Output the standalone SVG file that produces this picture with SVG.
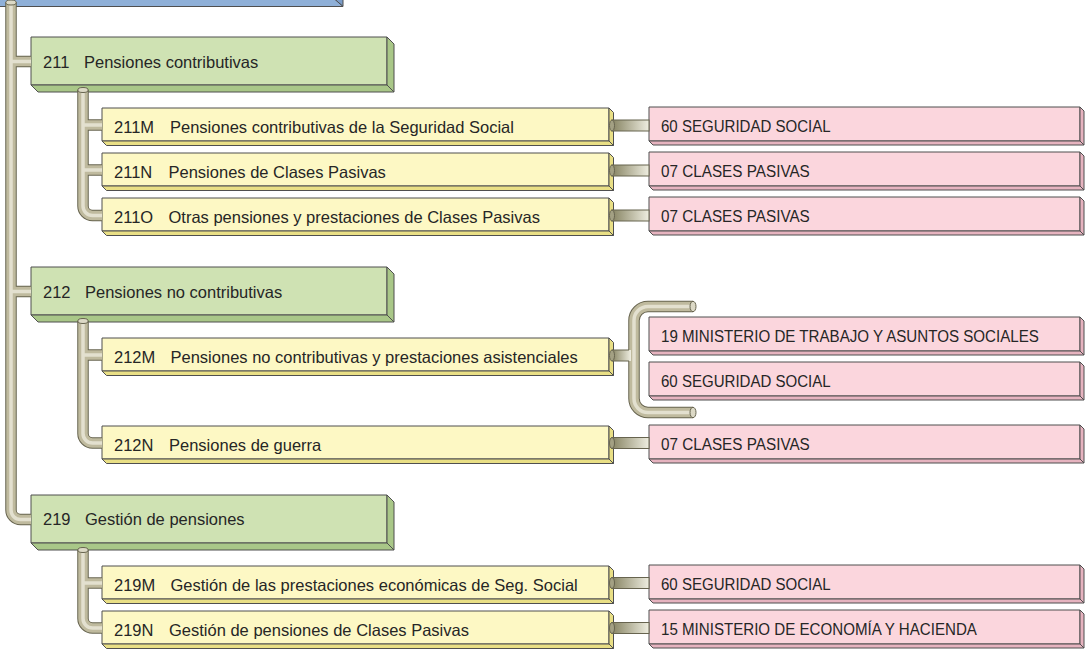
<svg xmlns="http://www.w3.org/2000/svg" width="1089" height="654" viewBox="0 0 1089 654">
<defs>
<style>
.front,.side{stroke:#4f4f4f;stroke-width:1;stroke-linejoin:round}
.blue .front{fill:#a6c2e4}.blue .side{fill:#8fb0d8}.blue .rs{fill:#7b9cc8}
.green .front{fill:#cfe2b3}.green .side{fill:#a9c788}
.yellow .front{fill:#fdf8c4}.yellow .side{fill:#e9df85}
.pink .front{fill:#fbd6dd}.pink .side{fill:#e6b3bf}
.t{font-family:"Liberation Sans",Arial,Helvetica,sans-serif;font-size:16.5px;fill:#262626}
.pt{font-family:"Liberation Sans",Arial,Helvetica,sans-serif;font-size:16px;fill:#262626}
.po{fill:none;stroke:#67644f;stroke-width:11.5}
.pm{fill:none;stroke:#bfba9e;stroke-width:9.5}
.ph{fill:none;stroke:#e3e0cf;stroke-width:3.5}
.cap{fill:#dcd9c6;stroke:#67644f;stroke-width:1}
.hp{fill:url(#hg);stroke:#67644f;stroke-width:1}
.hcap{fill:#a3a083;stroke:#67644f;stroke-width:1}
.edge{stroke:#67644f;stroke-width:1}
</style>
<linearGradient id="hg" x1="0" y1="0" x2="1" y2="0">
<stop offset="0" stop-color="#878463"/>
<stop offset="1" stop-color="#eeede0"/>
</linearGradient>
<path id="p-main" d="M 11 2 V 510 A 9.5 9.5 0 0 0 20.5 519.5 H 31"/>
<path id="p-b211" d="M 11 61.5 H 31"/>
<path id="p-b212" d="M 11 291.5 H 31"/>
<path id="p-s211" d="M 83 90 V 206 A 9.5 9.5 0 0 0 92.5 215.5 H 102"/>
<path id="p-s211a" d="M 83 125 H 102"/>
<path id="p-s211b" d="M 83 170 H 102"/>
<path id="p-s212" d="M 83 321 V 433.5 A 9.5 9.5 0 0 0 92.5 443 H 102"/>
<path id="p-s212a" d="M 83 355 H 102"/>
<path id="p-s219" d="M 83 550 V 618.5 A 9.5 9.5 0 0 0 92.5 628 H 102"/>
<path id="p-s219a" d="M 83 583 H 102"/>
<path id="p-br" d="M 693 306.5 H 648 A 14 14 0 0 0 634 320.5 V 398.5 A 14 14 0 0 0 648 412.5 H 693"/>
</defs>
<rect width="1089" height="654" fill="#ffffff"/>

<g id="node-top" class="blue">
<rect class="front" x="-10" y="-45" width="345" height="44.5"/>
<polygon class="side rs" points="335,-45 343,-37 343,6.5 335,-0.5"/>
<polygon class="side" points="-10,-0.5 335,-0.5 343,6.5 -2,6.5"/>
</g>

<g id="node-211" class="green">
<rect class="front" x="31" y="37" width="356" height="48"/>
<polygon class="side" points="387,37 394,44 394,92 387,85"/>
<polygon class="side" points="31,85 387,85 394,92 38,92"/>
<text class="t" y="67.5"><tspan x="43">211</tspan><tspan x="84">Pensiones contributivas</tspan></text>
</g>
<g id="node-212" class="green">
<rect class="front" x="31" y="267" width="356" height="48"/>
<polygon class="side" points="387,267 394,274 394,322 387,315"/>
<polygon class="side" points="31,315 387,315 394,322 38,322"/>
<text class="t" y="297.5"><tspan x="43">212</tspan><tspan x="85">Pensiones no contributivas</tspan></text>
</g>
<g id="node-219" class="green">
<rect class="front" x="31" y="495" width="356" height="48"/>
<polygon class="side" points="387,495 394,502 394,550 387,543"/>
<polygon class="side" points="31,543 387,543 394,550 38,550"/>
<text class="t" y="525"><tspan x="43">219</tspan><tspan x="85">Gestión de pensiones</tspan></text>
</g>

<g id="node-211M" class="yellow">
<rect class="front" x="102" y="108" width="507" height="33"/>
<polygon class="side" points="609,108 613.5,112.5 613.5,145.5 609,141"/>
<polygon class="side" points="102,141 609,141 613.5,145.5 106.5,145.5"/>
<text class="t" y="133"><tspan x="114">211M</tspan><tspan x="170">Pensiones contributivas de la Seguridad Social</tspan></text>
</g>
<g id="node-211N" class="yellow">
<rect class="front" x="102" y="153" width="507" height="33"/>
<polygon class="side" points="609,153 613.5,157.5 613.5,190.5 609,186"/>
<polygon class="side" points="102,186 609,186 613.5,190.5 106.5,190.5"/>
<text class="t" y="178"><tspan x="114">211N</tspan><tspan x="168.5">Pensiones de Clases Pasivas</tspan></text>
</g>
<g id="node-211O" class="yellow">
<rect class="front" x="102" y="198" width="507" height="33"/>
<polygon class="side" points="609,198 613.5,202.5 613.5,235.5 609,231"/>
<polygon class="side" points="102,231 609,231 613.5,235.5 106.5,235.5"/>
<text class="t" y="223"><tspan x="114">211O</tspan><tspan x="168.5">Otras pensiones y prestaciones de Clases Pasivas</tspan></text>
</g>
<g id="node-212M" class="yellow">
<rect class="front" x="102" y="338" width="507" height="33"/>
<polygon class="side" points="609,338 613.5,342.5 613.5,375.5 609,371"/>
<polygon class="side" points="102,371 609,371 613.5,375.5 106.5,375.5"/>
<text class="t" y="363"><tspan x="114">212M</tspan><tspan x="170.5">Pensiones no contributivas y prestaciones asistenciales</tspan></text>
</g>
<g id="node-212N" class="yellow">
<rect class="front" x="102" y="426" width="507" height="33"/>
<polygon class="side" points="609,426 613.5,430.5 613.5,463.5 609,459"/>
<polygon class="side" points="102,459 609,459 613.5,463.5 106.5,463.5"/>
<text class="t" y="451"><tspan x="114">212N</tspan><tspan x="169">Pensiones de guerra</tspan></text>
</g>
<g id="node-219M" class="yellow">
<rect class="front" x="102" y="566" width="507" height="33"/>
<polygon class="side" points="609,566 613.5,570.5 613.5,603.5 609,599"/>
<polygon class="side" points="102,599 609,599 613.5,603.5 106.5,603.5"/>
<text class="t" y="591"><tspan x="114">219M</tspan><tspan x="170.5">Gestión de las prestaciones económicas de Seg. Social</tspan></text>
</g>
<g id="node-219N" class="yellow">
<rect class="front" x="102" y="611" width="507" height="33"/>
<polygon class="side" points="609,611 613.5,615.5 613.5,648.5 609,644"/>
<polygon class="side" points="102,644 609,644 613.5,648.5 106.5,648.5"/>
<text class="t" y="636"><tspan x="114">219N</tspan><tspan x="169">Gestión de pensiones de Clases Pasivas</tspan></text>
</g>

<g id="node-p211M" class="pink">
<rect class="front" x="649" y="107" width="431" height="34"/>
<polygon class="side" points="1080,107 1084,111 1084,145 1080,141"/>
<polygon class="side" points="649,141 1080,141 1084,145 653,145"/>
<text class="pt" x="661" y="132" textLength="169.7" lengthAdjust="spacingAndGlyphs">60 SEGURIDAD SOCIAL</text>
</g>
<g id="node-p211N" class="pink">
<rect class="front" x="649" y="152" width="431" height="34"/>
<polygon class="side" points="1080,152 1084,156 1084,190 1080,186"/>
<polygon class="side" points="649,186 1080,186 1084,190 653,190"/>
<text class="pt" x="661" y="177" textLength="148.8" lengthAdjust="spacingAndGlyphs">07 CLASES PASIVAS</text>
</g>
<g id="node-p211O" class="pink">
<rect class="front" x="649" y="197" width="431" height="34"/>
<polygon class="side" points="1080,197 1084,201 1084,235 1080,231"/>
<polygon class="side" points="649,231 1080,231 1084,235 653,235"/>
<text class="pt" x="661" y="222" textLength="148.8" lengthAdjust="spacingAndGlyphs">07 CLASES PASIVAS</text>
</g>
<g id="node-p212M-19" class="pink">
<rect class="front" x="649" y="317" width="431" height="34"/>
<polygon class="side" points="1080,317 1084,321 1084,355 1080,351"/>
<polygon class="side" points="649,351 1080,351 1084,355 653,355"/>
<text class="pt" x="661" y="342" textLength="377.8" lengthAdjust="spacingAndGlyphs">19 MINISTERIO DE TRABAJO Y ASUNTOS SOCIALES</text>
</g>
<g id="node-p212M-60" class="pink">
<rect class="front" x="649" y="362" width="431" height="34"/>
<polygon class="side" points="1080,362 1084,366 1084,400 1080,396"/>
<polygon class="side" points="649,396 1080,396 1084,400 653,400"/>
<text class="pt" x="661" y="387" textLength="169.7" lengthAdjust="spacingAndGlyphs">60 SEGURIDAD SOCIAL</text>
</g>
<g id="node-p212N" class="pink">
<rect class="front" x="649" y="425" width="431" height="34"/>
<polygon class="side" points="1080,425 1084,429 1084,463 1080,459"/>
<polygon class="side" points="649,459 1080,459 1084,463 653,463"/>
<text class="pt" x="661" y="450" textLength="148.8" lengthAdjust="spacingAndGlyphs">07 CLASES PASIVAS</text>
</g>
<g id="node-p219M" class="pink">
<rect class="front" x="649" y="565" width="431" height="34"/>
<polygon class="side" points="1080,565 1084,569 1084,603 1080,599"/>
<polygon class="side" points="649,599 1080,599 1084,603 653,603"/>
<text class="pt" x="661" y="590" textLength="169.7" lengthAdjust="spacingAndGlyphs">60 SEGURIDAD SOCIAL</text>
</g>
<g id="node-p219N" class="pink">
<rect class="front" x="649" y="610" width="431" height="34"/>
<polygon class="side" points="1080,610 1084,614 1084,648 1080,644"/>
<polygon class="side" points="649,644 1080,644 1084,648 653,648"/>
<text class="pt" x="661" y="635" textLength="315.9" lengthAdjust="spacingAndGlyphs">15 MINISTERIO DE ECONOMÍA Y HACIENDA</text>
</g>

<g id="connectors">
<g class="po">
<use href="#p-main"/><use href="#p-b211"/><use href="#p-b212"/>
<use href="#p-s211"/><use href="#p-s211a"/><use href="#p-s211b"/>
<use href="#p-s212"/><use href="#p-s212a"/>
<use href="#p-s219"/><use href="#p-s219a"/>
<use href="#p-br"/>
</g>
<g class="pm">
<use href="#p-main"/><use href="#p-b211"/><use href="#p-b212"/>
<use href="#p-s211"/><use href="#p-s211a"/><use href="#p-s211b"/>
<use href="#p-s212"/><use href="#p-s212a"/>
<use href="#p-s219"/><use href="#p-s219a"/>
<use href="#p-br"/>
</g>
<g class="ph">
<use href="#p-main"/><use href="#p-b211"/><use href="#p-b212"/>
<use href="#p-s211"/><use href="#p-s211a"/><use href="#p-s211b"/>
<use href="#p-s212"/><use href="#p-s212a"/>
<use href="#p-s219"/><use href="#p-s219a"/>
<use href="#p-br"/>
</g>
<ellipse class="cap" cx="11" cy="2.5" rx="5.2" ry="2.5"/>
<ellipse class="cap" cx="83" cy="90" rx="5.2" ry="2.5"/>
<ellipse class="cap" cx="83" cy="321" rx="5.2" ry="2.5"/>
<ellipse class="cap" cx="83" cy="550" rx="5.2" ry="2.5"/>
<ellipse class="cap" cx="693" cy="306.5" rx="3" ry="5.2"/>
<ellipse class="cap" cx="693" cy="412.5" rx="3" ry="5.2"/>
<rect x="612" y="350" width="19" height="11" fill="url(#hg)"/>
<line class="edge" x1="612" y1="350" x2="629" y2="350"/>
<line class="edge" x1="612" y1="361" x2="629" y2="361"/>
<ellipse class="hcap" cx="612" cy="355.5" rx="2.5" ry="5.5"/>
<rect class="hp" x="612" y="120" width="37" height="11"/>
<ellipse class="hcap" cx="612" cy="125.5" rx="2.5" ry="5.5"/>
<rect class="hp" x="612" y="165" width="37" height="11"/>
<ellipse class="hcap" cx="612" cy="170.5" rx="2.5" ry="5.5"/>
<rect class="hp" x="612" y="210" width="37" height="11"/>
<ellipse class="hcap" cx="612" cy="215.5" rx="2.5" ry="5.5"/>
<rect class="hp" x="612" y="437.5" width="37" height="11"/>
<ellipse class="hcap" cx="612" cy="443" rx="2.5" ry="5.5"/>
<rect class="hp" x="612" y="577.5" width="37" height="11"/>
<ellipse class="hcap" cx="612" cy="583" rx="2.5" ry="5.5"/>
<rect class="hp" x="612" y="622.5" width="37" height="11"/>
<ellipse class="hcap" cx="612" cy="628" rx="2.5" ry="5.5"/>
</g>
</svg>
